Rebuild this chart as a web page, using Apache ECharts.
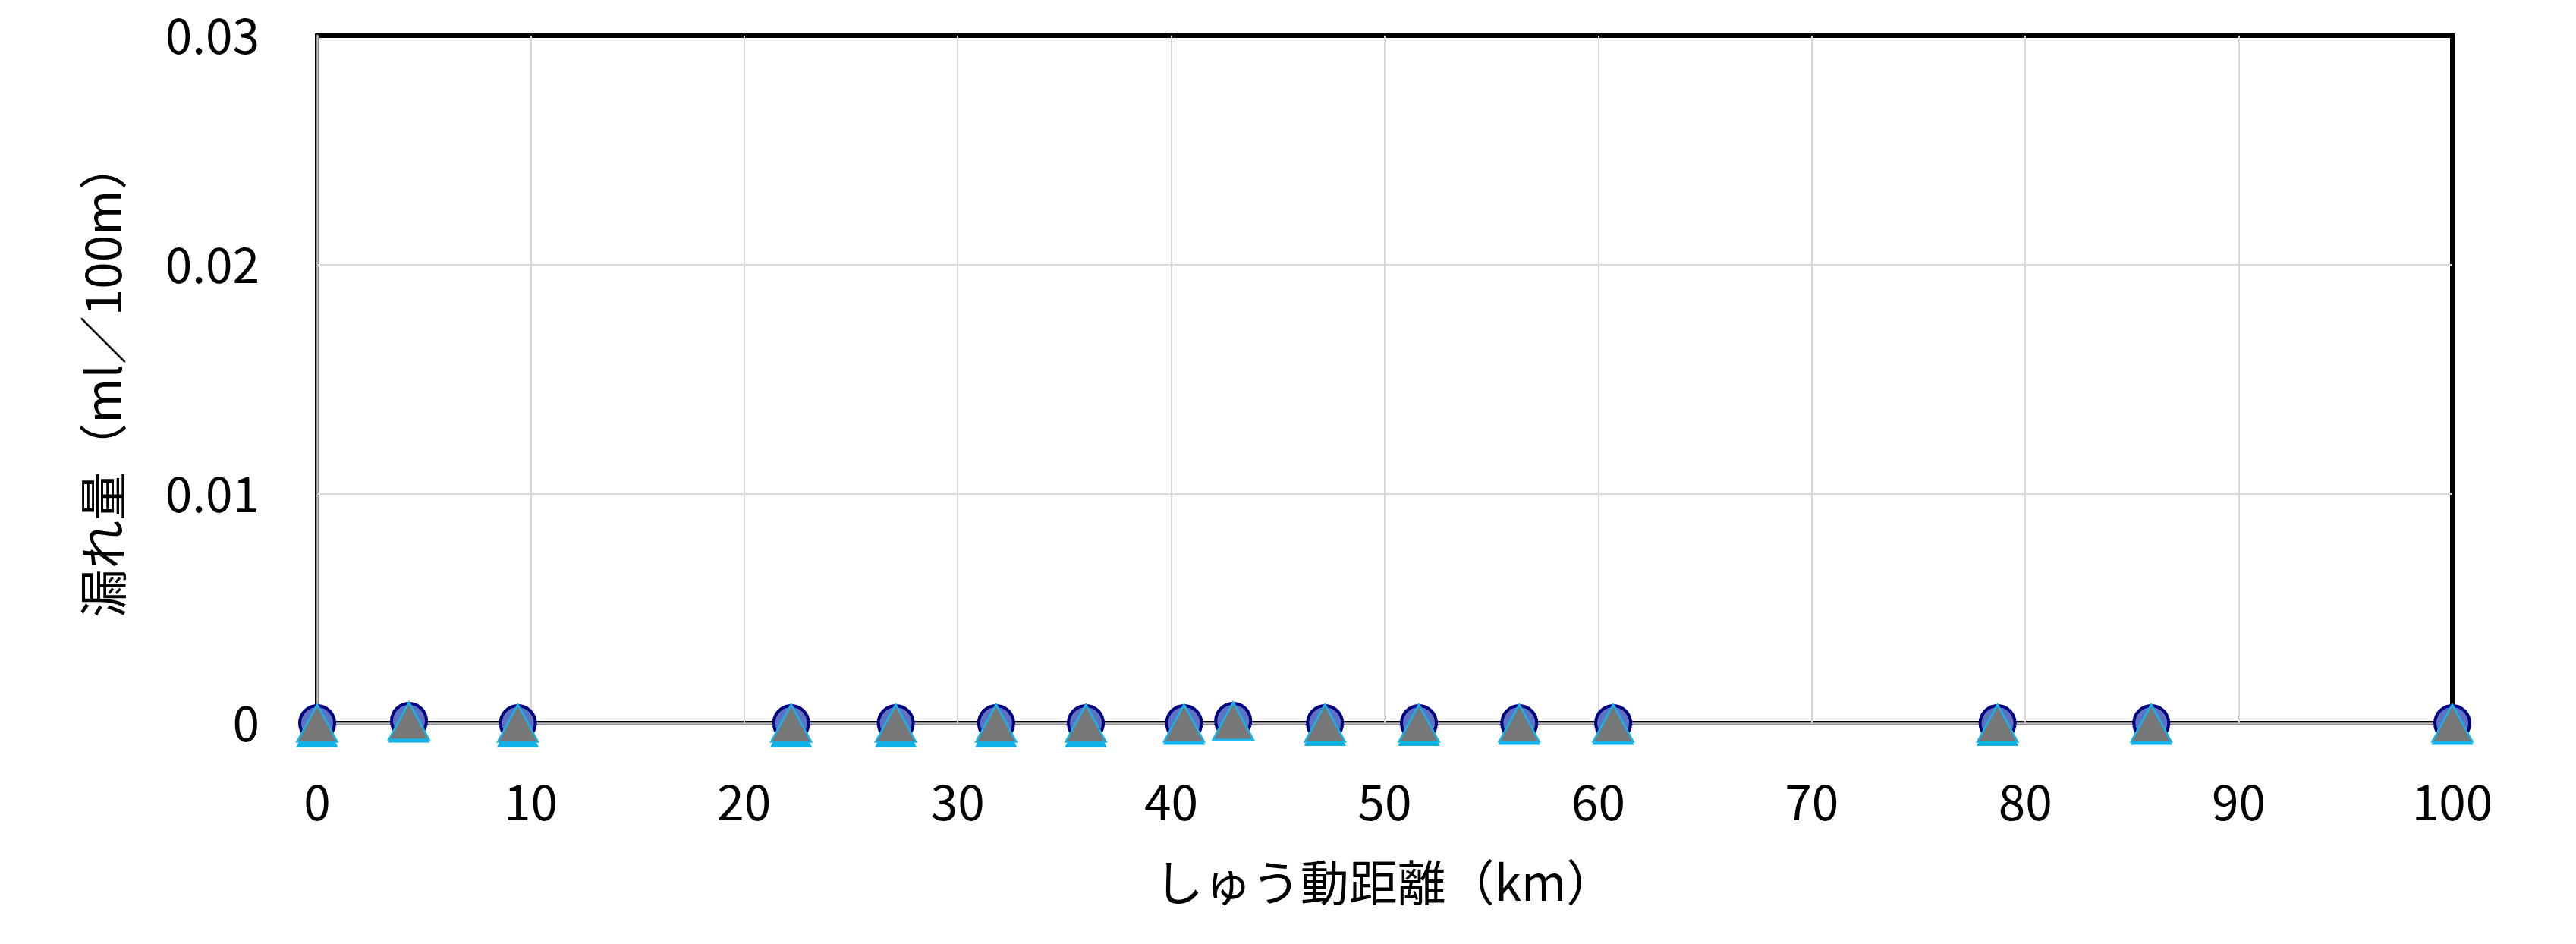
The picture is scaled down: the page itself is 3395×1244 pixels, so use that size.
<!DOCTYPE html>
<html>
<head>
<meta charset="utf-8">
<script src="https://cdn.jsdelivr.net/npm/echarts@6/dist/echarts.min.js"></script>
<style>
  html, body { margin: 0; padding: 0; background: #fff; }
  #chart { width: 3395px; height: 1244px; }
</style>
</head>
<body>
<div id="chart"></div>
<script>
// しゅう動距離 (km)
const distances = [0, 4.3, 9.4, 22.2, 27.1, 31.8, 36.0, 40.6, 42.9, 47.2, 51.6, 56.3, 60.7, 78.7, 85.9, 100]
// 漏れ量 (ml/100m)
const circleLeak = [0, 0.0001, 0, 0, 0, 0, 0, 0, 0.0001, 0, 0, 0, 0, 0, 0, 0]
const greyLeak = [0, 0.0001, 0, 0, 0, 0, 0, 0, 0.0001, 0, 0, 0, 0, 0, 0, 0]
const blueLeak = [-0.0002, 0, -0.0002, -0.0002, -0.0002, -0.0002, -0.0002, -0.0001, 0.0001, -0.00015, -0.00015, -0.0001, -0.0001, -0.00015, -0.0001, -0.0001]
const yTicks = [0, 0.01, 0.02, 0.03]
const xTicks = [0, 10, 20, 30, 40, 50, 60, 70, 80, 90, 100]

const pairs = vals => distances.map((d, i) => [d, vals[i]])
const font = '"Noto Sans CJK JP", "Noto Sans", sans-serif'

const chart = echarts.init(document.getElementById('chart'))
chart.setOption({
  animation: false,
  textStyle: { fontFamily: font },
  grid: {
    left: 418,
    right: 163,
    top: 47,
    bottom: 291,
    show: true,
    borderColor: '#000',
    borderWidth: 6,
    backgroundColor: '#fff'
  },
  xAxis: {
    type: 'value',
    min: xTicks[0],
    max: xTicks[xTicks.length - 1],
    interval: 10,
    name: 'しゅう動距離（km）',
    nameLocation: 'middle',
    nameGap: 178,
    nameTextStyle: { fontSize: 64, color: '#000', fontFamily: font },
    axisLine: { show: true, onZero: false, lineStyle: { color: '#bfbfbf', width: 2.5 } },
    axisTick: { show: false },
    axisLabel: { fontSize: 64, color: '#000', margin: 72, fontFamily: font },
    splitLine: { show: true, showMinLine: false, showMaxLine: false, lineStyle: { color: '#d9d9d9', width: 2 } }
  },
  yAxis: {
    type: 'value',
    min: yTicks[0],
    max: yTicks[yTicks.length - 1],
    interval: 0.01,
    name: '漏れ量（ml／100m）',
    nameLocation: 'middle',
    nameGap: 250,
    nameTextStyle: { fontSize: 64, color: '#000', fontFamily: font },
    axisLine: { show: true, onZero: false, lineStyle: { color: '#bfbfbf', width: 2.5 } },
    axisTick: { show: false },
    axisLabel: {
      fontSize: 64,
      color: '#000',
      margin: 76,
      fontFamily: font,
      formatter: v => (v === 0 ? '0' : String(Number(v.toFixed(2))))
    },
    splitLine: { show: true, showMinLine: false, showMaxLine: false, lineStyle: { color: '#d9d9d9', width: 2 } }
  },
  series: [
    {
      type: 'scatter',
      data: pairs(circleLeak),
      symbol: 'circle',
      symbolSize: 46,
      clip: false,
      z: 10,
      itemStyle: { color: '#5e72c2', borderColor: '#000080', borderWidth: 4, opacity: 1 }
    },
    {
      type: 'scatter',
      data: pairs(blueLeak),
      symbol: 'triangle',
      symbolSize: [55, 51],
      clip: false,
      z: 11,
      itemStyle: { color: '#0fb0e8', opacity: 1 }
    },
    {
      type: 'scatter',
      data: pairs(greyLeak),
      symbol: 'triangle',
      symbolSize: [53, 49],
      clip: false,
      z: 12,
      itemStyle: { color: '#777777', borderColor: '#17b2ea', borderWidth: 2.5, opacity: 1 }
    }
  ]
})
</script>
</body>
</html>
